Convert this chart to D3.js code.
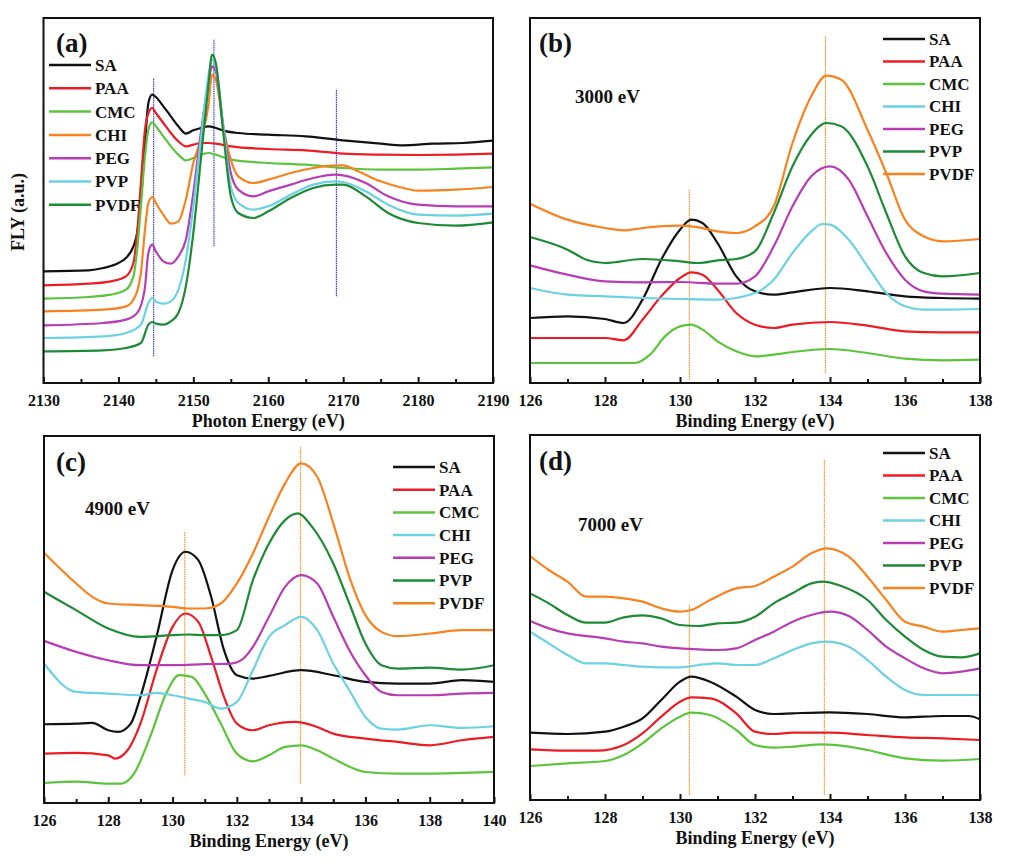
<!DOCTYPE html>
<html>
<head>
<meta charset="utf-8">
<script src="https://cdn.jsdelivr.net/npm/d3@7"></script>
<style>
  body { margin: 0; background: #fff; }
  text { font-family: "Liberation Serif", "Times New Roman", serif; font-weight: bold; fill: #111; }
</style>
</head>
<body>
<svg id="chart" width="1015" height="860"></svg>
<script>
// names used in every legend
var names = ["SA", "PAA", "CMC", "CHI", "PEG", "PVP", "PVDF"];
var colorsA = ["#111111", "#ec1c24", "#5cc43c", "#f7821e", "#b63db4", "#6bd1e3", "#1d8a35"];
var colorsBCD = ["#111111", "#ec1c24", "#5cc43c", "#6bd1e3", "#b63db4", "#1d8a35", "#f7821e"];

// (a) S K-edge FLY spectra, [photon energy (eV), intensity (a.u.)]
var aSA = [[2130,33.5],[2136,33.8],[2138,34.5],[2140,36],[2141,37.5],[2142,41],[2142.5,45],[2143,55],[2143.5,70],[2144,84],[2144.5,86.5],[2145,85.8],[2146,83],[2147,80],[2148,77],[2149,74.8],[2150,75.8],[2151,76.5],[2152,77],[2153,76.5],[2154,75.7],[2156,75],[2160,74.5],[2165,74],[2170,72.8],[2175,71.8],[2178,71.3],[2182,71.8],[2186,72],[2190,72.7]];
var aPAA = [[2130,29.3],[2136,29.8],[2139,30.5],[2141,32],[2142,36],[2142.5,45],[2143,60],[2143.5,75],[2144,81],[2144.5,82.5],[2145,81],[2146,78],[2147,75],[2148,72.5],[2149,71],[2150,71.5],[2151,72],[2152,72],[2153,71.8],[2155,71],[2160,70.2],[2165,69.8],[2170,68.8],[2175,68.5],[2180,68.4],[2185,68.5],[2190,68.8]];
var aCMC = [[2130,25.3],[2136,25.8],[2139,26.5],[2141,28],[2142,32],[2142.5,40],[2143,53],[2143.5,67],[2144,76],[2144.5,78.2],[2145,77],[2146,74],[2147,71],[2148,68.5],[2149,66.8],[2150,67.5],[2151,68.5],[2152,69],[2153,68.5],[2155,67],[2160,66],[2165,65.5],[2170,64.5],[2175,64],[2180,64],[2185,64.3],[2190,64.7]];
var aCHI = [[2130,21.5],[2138,22],[2141,23],[2142,25],[2143,33],[2143.5,45],[2144,54],[2144.5,55.8],[2145,54],[2146,50.5],[2147,47.8],[2148,48.5],[2149,55],[2150,66],[2151,73],[2152,83],[2152.5,92.5],[2153,91],[2154,77],[2155,67],[2156,62],[2158,60],[2160,61],[2163,63],[2166,64.5],[2169,65.3],[2170,65.3],[2172,63.5],[2175,60.5],[2178,58.5],[2180,57.7],[2185,58],[2190,58.8]];
var aPEG = [[2130,17.3],[2138,18],[2141,19],[2142.5,21],[2143.5,28],[2144,39],[2144.5,41.5],[2145,39.5],[2146,36.5],[2147,35.8],[2148,38],[2149,43],[2150,57],[2151,75],[2152,90],[2152.5,95],[2153,93.5],[2154,77],[2155,63],[2156,58],[2158,56],[2160,57.5],[2163,59.5],[2166,61.5],[2169,62.5],[2170,62.3],[2173,60],[2176,56],[2180,53.5],[2185,53],[2190,53]];
var aPVP = [[2130,13.5],[2138,14],[2141,15],[2143,17.5],[2144,24],[2144.5,25.5],[2145,24.5],[2146,23.8],[2147,24.5],[2148,28],[2149,37],[2150,53],[2151,73],[2152,92],[2152.5,97],[2153,95],[2154,77],[2155,59],[2156,54],[2158,52],[2160,53],[2163,56.5],[2166,59.5],[2169,60.5],[2170,60.3],[2173,57.5],[2176,53.5],[2180,50.5],[2185,50.2],[2190,50.8]];
var aPVDF = [[2130,9.5],[2138,9.8],[2141,10.5],[2143,12],[2144,17.5],[2144.5,18.3],[2145,17.8],[2146,17.5],[2147,18.5],[2148,21],[2149,29],[2150,45],[2151,67],[2152,89],[2152.5,98.5],[2153,96],[2154,75],[2155,56],[2156,51],[2158,49.5],[2160,51.5],[2163,55.5],[2166,58.5],[2169,59.5],[2170,59.5],[2173,56],[2176,51],[2180,48],[2185,47.2],[2190,48.2]];
var aGuides = [[2144.7, 8, 91.5], [2152.75, 41, 103.2], [2169.1, 26, 88.2]];

// (b) S 2p XPS at 3000 eV, [binding energy (eV), intensity (a.u.)]
var bSA = [[126,19.5],[127,20],[128,19.2],[128.5,18],[129,25],[129.5,37],[130,46],[130.3,49],[130.6,48],[131,42],[131.5,32],[132,27.5],[132.5,26.5],[133,27.2],[134,28.5],[135,27.5],[136,26],[137,25.5],[138,25.3]];
var bPAA = [[126,13.5],[127,13.5],[128,13.5],[128.5,12.8],[129,19],[129.5,26],[130,31.5],[130.3,33.2],[130.6,32.5],[131,28],[131.5,21],[132,17.5],[132.5,16.5],[133,17.5],[134,18.3],[135,17.2],[136,15.5],[137,15.2],[138,15.2]];
var bCMC = [[126,6],[127,6],[128,6],[128.8,6],[129.2,8.5],[129.6,14],[130,17],[130.3,17.5],[130.6,16],[131,12.5],[131.5,9.5],[132,8],[132.5,8.5],[133,9.3],[134,10.2],[135,9],[136,7.3],[137,6.8],[138,7]];
var bCHI = [[126,28.5],[127,26.5],[128,26],[129,25.5],[130,25.2],[131,25],[132,27],[132.5,31],[133,39],[133.5,45.5],[133.8,47.7],[134,47.5],[134.5,43],[135,35],[135.5,27],[136,23],[136.5,22],[137,22],[138,22.2]];
var bPEG = [[126,35.3],[127,32.5],[128,30.5],[129,30.2],[130,30.3],[131,29.8],[131.5,29.8],[132,32],[132.5,41],[133,53],[133.5,62],[134,65],[134.5,61],[135,50],[135.5,39],[136,31],[136.5,27.5],[137,26.8],[138,26.5]];
var bPVP = [[126,43.8],[127,40],[127.5,37],[128,36],[129,37.2],[130,36.5],[130.5,36],[131,36.8],[131.5,37.2],[132,39.5],[132.5,51],[133,65],[133.5,74.5],[133.9,78],[134.3,77],[135,65],[135.5,51],[136,38],[136.5,33],[137,32],[138,33]];
var bPVDF = [[126,53.8],[127,49],[128,46.5],[128.5,45.8],[129,46.5],[130,47.2],[130.5,46.7],[131,45.5],[131.5,45],[132,47],[132.5,53],[133,72],[133.5,86],[133.9,92.2],[134.3,91],[135,76],[135.5,63],[136,49],[136.5,44],[137,42.5],[138,43.2]];
var bGuides = [[130.25, 1, 58], [133.88, 3, 104]];

// (c) S 2p XPS at 4900 eV
var cSA = [[126,23.6],[127,23.8],[127.5,24],[128,21.8],[128.3,21.3],[128.7,23.8],[129,31.8],[129.5,49.8],[130,69.8],[130.4,75.3],[130.8,72.8],[131.2,61.8],[131.6,45.8],[132,38.3],[132.5,37.3],[133,38.1],[134,39.8],[135,38.3],[136,36.3],[137,35.8],[138,35.8],[139,36.8],[140,36.3]];
var cPAA = [[126,14.8],[127,15],[128,14.3],[128.2,13.3],[128.6,15.8],[129,23.8],[129.5,39.8],[130,52.8],[130.4,56.8],[130.8,54.3],[131.2,43.8],[131.6,31.8],[132,23.8],[132.5,21.8],[133,23.3],[133.8,24.3],[134.5,22.8],[135,20.8],[136,19.3],[137,18.3],[138,17.3],[139,18.8],[140,19.8]];
var cCMC = [[126,6],[127,6.4],[128,5.8],[128.4,5.8],[128.8,8.8],[129.3,19.8],[129.8,32.8],[130.2,38.3],[130.6,37.8],[131,32.8],[131.5,23.8],[132,14.8],[132.5,12.5],[133,14.3],[133.5,16.8],[134,17.3],[134.5,15.8],[135,13.3],[136,9.3],[137,8.8],[138,8.8],[139,9],[140,9.3]];
var cCHI = [[126,41.8],[127,33.3],[128,32.8],[129,32.3],[129.5,33],[130,32.3],[130.5,31.3],[131,30.3],[131.5,28.3],[132,30.3],[132.5,39.8],[133,49.8],[133.5,53.3],[134,55.8],[134.5,51.8],[135,41.8],[135.5,33.8],[136,25.8],[136.5,22.3],[137,22],[138,23.3],[139,22.5],[140,23]];
var cPEG = [[126,48.6],[127,45.3],[128,42.8],[129,41.3],[130,41.3],[131,41.6],[131.8,41.8],[132.2,43.3],[132.5,46.8],[133,55.8],[133.5,64.8],[134,68.3],[134.5,65.8],[135,55.8],[135.5,45.8],[136,38.3],[136.5,33.3],[137,32.3],[138,32.3],[139,32.8],[140,33]];
var cPVP = [[126,63.3],[127,57.8],[128,52.3],[129,49.8],[130,50.3],[130.5,50.5],[131,50.3],[131.5,50.3],[132,51.8],[132.5,66.8],[133,77.8],[133.5,84.8],[133.9,86.8],[134.3,83.3],[135,71.8],[135.5,59.8],[136,47.8],[136.5,41.3],[137,40.3],[138,40.6],[139,40],[140,41.3]];
var cPVDF = [[126,75],[127,65.8],[127.5,61.8],[128,59.8],[129,59.3],[130,58.8],[130.5,58.3],[131,58.3],[131.5,59.8],[132,65.8],[132.5,74.8],[133,85.8],[133.5,95.8],[134,101.8],[134.5,97.8],[135,83.8],[135.5,67.8],[136,56.3],[136.5,51.3],[137,50],[138,50.8],[139,51.8],[140,51.8]];
var cGuides = [[130.38, 8.3, 81.3], [133.98, 5.8, 106.8]];

// (d) S 2p XPS at 7000 eV
var dSA = [[126,20.2],[127,19.8],[128,20.5],[128.5,22],[129,24.5],[129.5,30],[130,35.5],[130.3,37],[130.8,35.5],[131.5,31],[132,27],[132.5,25.8],[133,26],[134,26.3],[135,25.8],[136,24.8],[137,25.2],[137.7,25.2],[138,24.2]];
var dPAA = [[126,15.2],[127,14.8],[127.8,14.8],[128.5,16.5],[129,20],[129.5,25],[130,29.5],[130.3,30.8],[130.8,30.5],[131.5,26],[132,20.5],[132.5,19.8],[133,20.2],[134,20.2],[135,19.5],[136,18.8],[137,18.5],[138,18]];
var dCMC = [[126,10.2],[127,11],[128,11.7],[128.5,13.5],[129,17],[129.5,21.5],[130,25],[130.3,26.2],[130.8,25.5],[131.5,21],[132,16.5],[132.5,15.7],[133,16],[133.8,16.7],[134.5,16],[135,15],[136,12.5],[137,11.8],[138,12.3]];
var dCHI = [[126,50.5],[126.5,47],[127,43.5],[127.5,41],[128,41],[128.5,40.5],[129,40],[129.5,39.8],[130,39.8],[130.5,40.5],[131,41],[131.5,40.5],[132,40.5],[132.5,42.5],[133,45],[133.5,47],[133.9,47.5],[134.5,46],[135,42],[135.5,37],[136,33],[136.5,31.5],[137,31.5],[138,31.5]];
var dPEG = [[126,53.7],[126.5,51.5],[127,50],[128,48.5],[128.5,47.5],[129,47],[129.5,46],[130,45.5],[130.5,45.2],[131,45],[131.5,45.5],[132,48],[132.5,50.5],[133,53.5],[133.5,55.5],[134,56.5],[134.5,55.2],[135,51],[135.5,46],[136,42.5],[136.5,39.5],[137,38],[137.5,38.5],[138,39.5]];
var dPVP = [[126,62],[126.5,59],[127,55.5],[127.5,53.2],[128,53.2],[128.5,54.8],[129,55.4],[129.5,54.5],[130,52.5],[130.5,52.2],[131,53],[131.5,53.2],[132,55],[132.5,59],[133,62],[133.5,65],[133.8,65.5],[134.3,64.2],[135,60],[135.5,54],[136,49],[136.5,45],[137,43],[137.5,42.8],[138,44]];
var dPVDF = [[126,73.2],[126.5,69],[127,65.5],[127.5,61],[128,61],[128.5,60.5],[129,59.5],[129.5,57.5],[130,56.5],[130.3,57],[130.8,60],[131.5,63.5],[132,64.2],[132.5,67],[133,70],[133.5,74],[133.9,75.5],[134.5,73],[135,67],[135.5,60],[136,53.5],[136.5,52],[137,50.5],[137.5,51],[138,51.5]];
var dGuides = [[130.25, 1.5, 58.5], [133.85, 1.5, 102.2]];

var xTicksA = [2130, 2140, 2150, 2160, 2170, 2180, 2190];
var xTicksB = [126, 128, 130, 132, 134, 136, 138];
var xTicksC = [126, 128, 130, 132, 134, 136, 138, 140];

var panels = [
  { tag: "(a)", box: [43.5, 18, 493, 383], xd: [2130, 2190], yd: [0, 109.5], ticks: xTicksA, minorStep: 5,
    series: [aSA, aPAA, aCMC, aCHI, aPEG, aPVP, aPVDF], colors: colorsA,
    guides: aGuides, guideColor: "#3b3bd6", title: "Photon Energy (eV)",
    legend: [49, 65, 23.3], tagPos: [56, 52], note: null },
  { tag: "(b)", box: [530, 18, 980, 383], xd: [126, 138], yd: [0, 109.5], ticks: xTicksB, minorStep: 1,
    series: [bSA, bPAA, bCMC, bCHI, bPEG, bPVP, bPVDF], colors: colorsBCD,
    guides: bGuides, guideColor: "#f7941e", title: "Binding Energy (eV)",
    legend: [883, 39, 22.5], tagPos: [539, 52], note: ["3000 eV", 575, 103] },
  { tag: "(c)", box: [44, 436, 494, 803], xd: [126, 140], yd: [0, 110], ticks: xTicksC, minorStep: 1,
    series: [cSA, cPAA, cCMC, cCHI, cPEG, cPVP, cPVDF], colors: colorsBCD,
    guides: cGuides, guideColor: "#f7941e", title: "Binding Energy (eV)",
    legend: [393, 467, 22.7], tagPos: [56, 471], note: ["4900 eV", 85, 515] },
  { tag: "(d)", box: [530, 435, 980, 800], xd: [126, 138], yd: [0, 109.5], ticks: xTicksB, minorStep: 1,
    series: [dSA, dPAA, dCMC, dCHI, dPEG, dPVP, dPVDF], colors: colorsBCD,
    guides: dGuides, guideColor: "#f7941e", title: "Binding Energy (eV)",
    legend: [883, 453, 22.5], tagPos: [539, 470], note: ["7000 eV", 578, 531] }
];

var svg = d3.select("#chart");
svg.append("rect").attr("width", 1015).attr("height", 860).attr("fill", "#fff");

panels.forEach(function(p) {
  var x0 = p.box[0], y0 = p.box[1], x1 = p.box[2], y1 = p.box[3];
  var x = d3.scaleLinear().domain(p.xd).range([x0, x1]);
  var y = d3.scaleLinear().domain(p.yd).range([y1, y0]);
  var g = svg.append("g");

  var line = d3.line()
      .x(function(d) { return x(d[0]); })
      .y(function(d) { return y(d[1]); })
      .curve(d3.curveMonotoneX);

  // guide lines at peak positions
  g.selectAll(".guide")
      .data(p.guides)
    .enter().append("line")
      .attr("x1", function(d) { return x(d[0]); })
      .attr("x2", function(d) { return x(d[0]); })
      .attr("y1", function(d) { return y(d[1]); })
      .attr("y2", function(d) { return y(d[2]); })
      .attr("stroke", p.guideColor)
      .attr("stroke-width", 1.2)
      .attr("stroke-dasharray", "1.5,0.8");

  g.selectAll(".curve")
      .data(p.series)
    .enter().append("path")
      .attr("d", line)
      .attr("fill", "none")
      .attr("stroke", function(d, i) { return p.colors[i]; })
      .attr("stroke-width", 2.2)
      .attr("stroke-linejoin", "round");

  // minor ticks
  var minor = d3.range(p.xd[0], p.xd[1] + 0.001, p.minorStep).filter(function(v) { return p.ticks.indexOf(v) < 0; });
  g.append("g")
      .attr("transform", "translate(0," + y1 + ")")
      .call(d3.axisBottom(x).tickValues(minor).tickSize(-4).tickSizeOuter(0).tickFormat(""))
      .call(function(a) { a.select(".domain").remove(); a.selectAll("line").attr("stroke", "#111").attr("stroke-width", 2); });

  var ax = g.append("g")
      .attr("transform", "translate(0," + y1 + ")")
      .call(d3.axisBottom(x).tickValues(p.ticks).tickSize(-6).tickSizeOuter(0).tickPadding(12).tickFormat(d3.format("d")));
  ax.select(".domain").remove();
  ax.selectAll("line").attr("stroke", "#111").attr("stroke-width", 2);
  ax.selectAll("text").attr("font-size", 16).attr("font-family", "Liberation Serif, serif").attr("font-weight", "bold").attr("fill", "#111");

  // frame
  g.append("rect")
      .attr("x", x0).attr("y", y0)
      .attr("width", x1 - x0).attr("height", y1 - y0)
      .attr("fill", "none").attr("stroke", "#111").attr("stroke-width", 2);

  g.append("text")
      .attr("x", (x0 + x1) / 2).attr("y", y1 + 44)
      .attr("text-anchor", "middle").attr("font-size", 18)
      .text(p.title);

  g.append("text")
      .attr("x", p.tagPos[0]).attr("y", p.tagPos[1])
      .attr("font-size", 27)
      .text(p.tag);

  if (p.note) {
    g.append("text").attr("x", p.note[1]).attr("y", p.note[2]).attr("font-size", 19).text(p.note[0]);
  }

  // legend
  var lg = g.selectAll(".leg")
      .data(names)
    .enter().append("g")
      .attr("transform", function(d, i) { return "translate(" + p.legend[0] + "," + (p.legend[1] + i * p.legend[2]) + ")"; });
  lg.append("line")
      .attr("x1", 0).attr("x2", 42)
      .attr("stroke", function(d, i) { return p.colors[i]; })
      .attr("stroke-width", 2.5);
  lg.append("text")
      .attr("x", 46).attr("dy", "0.35em")
      .attr("font-size", 17)
      .text(function(d) { return d; });
});

svg.append("text")
    .attr("transform", "translate(24,212) rotate(-90)")
    .attr("text-anchor", "middle")
    .attr("font-size", 18)
    .text("FLY (a.u.)");
</script>
</body>
</html>
